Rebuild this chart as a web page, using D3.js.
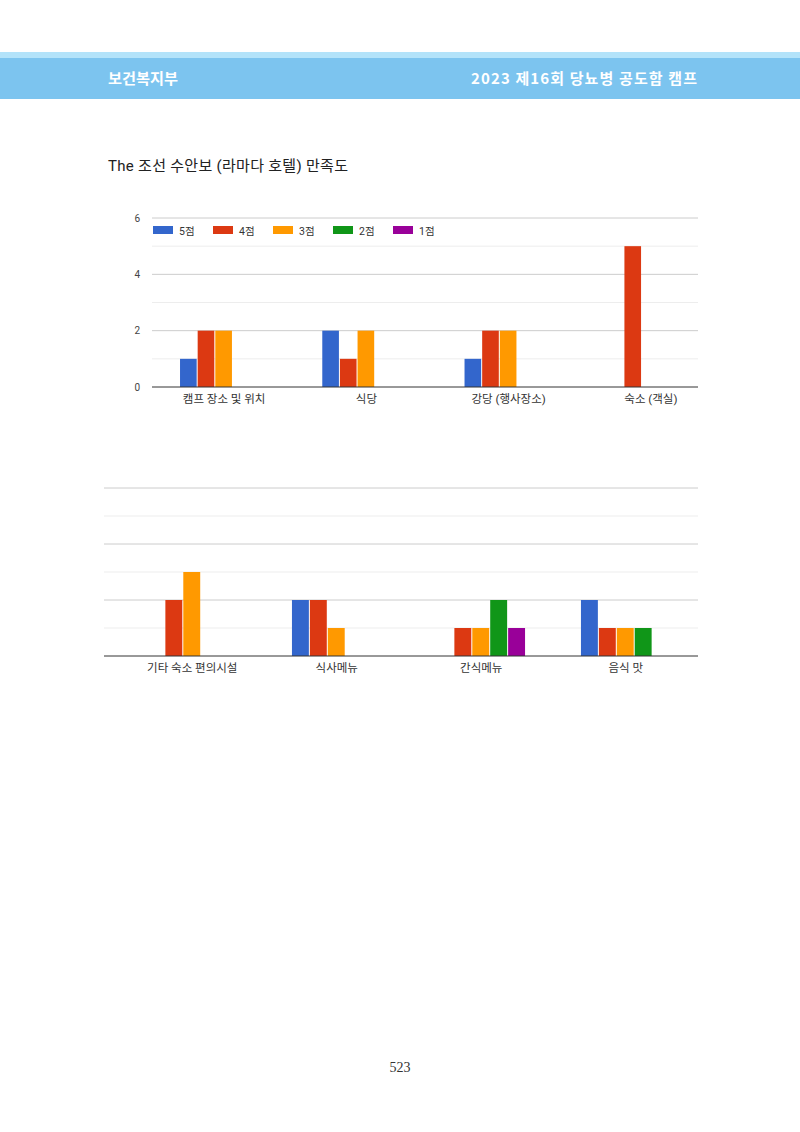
<!DOCTYPE html>
<html>
<head>
<meta charset="utf-8">
<script src="https://cdn.jsdelivr.net/npm/d3@7"></script>
<style>
  body { margin: 0; background: #fff; }
  svg { display: block; }
</style>
</head>
<body>
<div id="page"></div>
<script>
// data
const series = ['5점', '4점', '3점', '2점', '1점'];
const colors = ['#3366cc', '#dc3912', '#ff9900', '#109618', '#990099'];

const cats1 = ['캠프 장소 및 위치', '식당', '강당 (행사장소)', '숙소 (객실)'];
const vals1 = [
  [1, 2, 2, 0, 0],
  [2, 1, 2, 0, 0],
  [1, 2, 2, 0, 0],
  [0, 5, 0, 0, 0]
];

const cats2 = ['기타 숙소 편의시설', '식사메뉴', '간식메뉴', '음식 맛'];
const vals2 = [
  [0, 2, 3, 0, 0],
  [2, 2, 1, 0, 0],
  [0, 1, 1, 2, 1],
  [2, 1, 1, 1, 0]
];

const yTicks = [0, 2, 4, 6];
const title = 'The 조선 수안보 (라마다 호텔) 만족도';

const W = 800, H = 1132;
const font = "Roboto, 'Noto Sans CJK KR', sans-serif";

const svg = d3.select('#page').append('svg')
    .attr('width', W)
    .attr('height', H);

// header band
svg.append('rect').attr('x', 0).attr('y', 52).attr('width', W).attr('height', 6).attr('fill', '#b3e3fa');
svg.append('rect').attr('x', 0).attr('y', 58).attr('width', W).attr('height', 41).attr('fill', '#7cc4ef');

svg.append('text')
    .attr('x', 108).attr('y', 84)
    .attr('font-family', "'Noto Sans CJK KR', sans-serif")
    .attr('font-weight', 'bold')
    .attr('font-size', 15)
    .attr('textLength', 70)
    .attr('lengthAdjust', 'spacingAndGlyphs')
    .attr('fill', '#fff')
    .text('보건복지부');

svg.append('text')
    .attr('x', 471).attr('y', 84)
    .attr('font-family', "'Noto Sans CJK KR', sans-serif")
    .attr('font-weight', 'bold')
    .attr('font-size', 15)
    .attr('textLength', 226)
    .attr('lengthAdjust', 'spacing')
    .attr('fill', '#fff')
    .text('2023 제16회 당뇨병 공도함 캠프');

// title
svg.append('text')
    .attr('x', 108).attr('y', 171)
    .attr('font-family', font)
    .attr('font-size', 15)
    .attr('textLength', 240)
    .attr('lengthAdjust', 'spacing')
    .attr('fill', '#222')
    .text(title);

function drawChart(cats, vals, opt) {
  const g = svg.append('g');

  const x0 = d3.scaleBand()
      .domain(cats)
      .range([opt.bandLeft, opt.bandRight])
      .paddingInner(0)
      .paddingOuter(0);

  const inner = x0.bandwidth() * 0.62;
  const x1 = d3.scaleBand()
      .domain(series)
      .range([0, inner]);

  const y = d3.scaleLinear()
      .domain([0, 6])
      .range([opt.bottom, opt.top]);

  // gridlines (minor then major)
  g.selectAll('line.minor')
    .data([1, 3, 5])
    .enter().append('line')
      .attr('x1', opt.gridLeft).attr('x2', opt.gridRight)
      .attr('y1', d => y(d)).attr('y2', d => y(d))
      .attr('stroke', '#ededed');

  g.selectAll('line.major')
    .data(yTicks.slice(1))
    .enter().append('line')
      .attr('x1', opt.gridLeft).attr('x2', opt.gridRight)
      .attr('y1', d => y(d)).attr('y2', d => y(d))
      .attr('stroke', '#cccccc');

  if (opt.showY) {
    const yAxis = d3.axisLeft(y).tickValues(yTicks).tickFormat(d3.format('d')).tickSize(0).tickPadding(0);
    const ya = g.append('g')
        .attr('transform', `translate(${opt.gridLeft - 12},0)`)
        .call(yAxis);
    ya.select('.domain').remove();
    ya.selectAll('text')
        .attr('font-family', font)
        .attr('font-size', 10)
        .attr('fill', '#444');
  }

  // bars
  const grp = g.selectAll('g.grp')
      .data(cats)
      .enter().append('g')
      .attr('transform', d => `translate(${x0(d) + (x0.bandwidth() - inner) / 2},0)`);

  grp.selectAll('rect')
      .data((d, i) => vals[i].map((v, j) => ({ s: series[j], v, c: colors[j] })))
      .enter().append('rect')
      .filter(d => d.v > 0)
      .attr('x', d => x1(d.s))
      .attr('y', d => y(d.v))
      .attr('width', x1.bandwidth() - 1)
      .attr('height', d => y(0) - y(d.v))
      .attr('fill', d => d.c);

  // baseline
  g.append('line')
      .attr('x1', opt.gridLeft).attr('x2', opt.gridRight)
      .attr('y1', y(0)).attr('y2', y(0))
      .attr('stroke', '#333');

  // category axis
  const xa = g.append('g')
      .attr('transform', `translate(0,${y(0)})`)
      .call(d3.axisBottom(x0).tickSize(0).tickPadding(8));
  xa.select('.domain').remove();
  xa.selectAll('text')
      .attr('font-family', font)
      .attr('font-size', 11.5)
      .attr('fill', '#333');

  if (opt.legend) {
    const lg = g.append('g')
        .attr('transform', `translate(${opt.gridLeft + 1},226)`);
    const item = lg.selectAll('g')
        .data(series)
        .enter().append('g')
        .attr('transform', (d, i) => `translate(${i * 60},0)`);
    item.append('rect')
        .attr('width', 20).attr('height', 8)
        .attr('fill', (d, i) => colors[i]);
    item.append('text')
        .attr('x', 26).attr('y', 8.5)
        .attr('font-family', font)
        .attr('font-size', 10.5)
        .attr('fill', '#333')
        .text(d => d);
  }
}

drawChart(cats1, vals1, {
  bandLeft: 153, bandRight: 722,
  gridLeft: 152, gridRight: 698,
  top: 218, bottom: 387,
  showY: true, legend: true
});

drawChart(cats2, vals2, {
  bandLeft: 120, bandRight: 698,
  gridLeft: 104, gridRight: 698,
  top: 488, bottom: 656,
  showY: false, legend: false
});

// page number
svg.append('text')
    .attr('x', 400).attr('y', 1072)
    .attr('text-anchor', 'middle')
    .attr('font-family', "'Liberation Serif', serif")
    .attr('font-size', 14)
    .attr('fill', '#333')
    .text('523');
</script>
</body>
</html>
